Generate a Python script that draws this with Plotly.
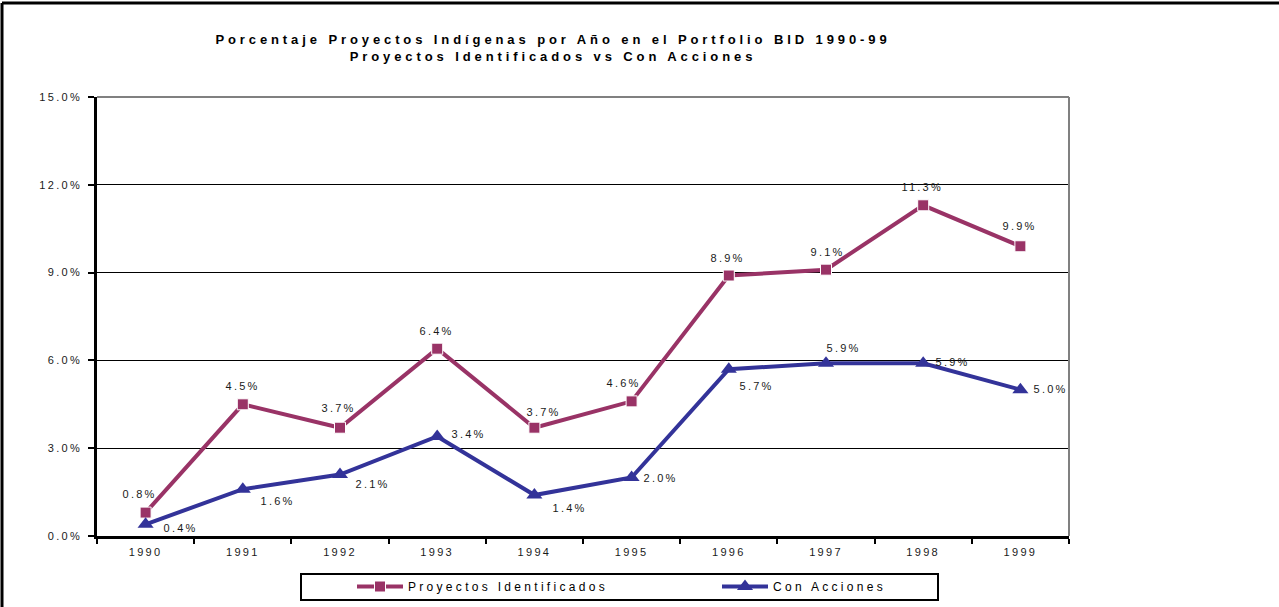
import plotly.graph_objects as go

years = ["1990", "1991", "1992", "1993", "1994", "1995", "1996", "1997", "1998", "1999"]
identificados = [0.8, 4.5, 3.7, 6.4, 3.7, 4.6, 8.9, 9.1, 11.3, 9.9]
con_acciones = [0.4, 1.6, 2.1, 3.4, 1.4, 2.0, 5.7, 5.9, 5.9, 5.0]
y_ticks = [0, 3, 6, 9, 12, 15]

title_text = ("Porcentaje Proyectos Indígenas por Año en el Portfolio BID 1990-99"
              "<br>Proyectos Identificados vs Con Acciones")

# label offsets in pixels (dx right, dy down) relative to each marker
ident_dx = [-6, 0, -2, -1, 9, -8, -1, 1, -1, -1]
ident_dy = [-19, -18, -20, -18, -16, -18, -18, -18, -18, -20]
accion_dx = [35, 35, 32, 31, 35, 29, 28, 17, 29, 30]
accion_dy = [4, 12, 9, -2, 13, 1, 17, -15, -1, -1]

W, H = 1279, 607
L, R, T, B = 97, 1069, 97, 536
FONT = "Liberation Sans, Arial, sans-serif"
MAROON = "#993366"
BLUE = "#333399"
LABEL_COLOR = "#1a1a1a"


def px_x(p):
    return (p - L) / (R - L)


def px_y(p):
    return (B - p) / (B - T)


fig = go.Figure()
fig.add_trace(go.Scatter(
    x=years, y=identificados, name="Proyectos Identificados",
    mode="lines+markers",
    line=dict(color=MAROON, width=4),
    marker=dict(symbol="square", size=11, color=MAROON,
                line=dict(color="white", width=1)),
))
fig.add_trace(go.Scatter(
    x=years, y=con_acciones, name="Con Acciones",
    mode="lines+markers",
    line=dict(color=BLUE, width=4),
    marker=dict(symbol="triangle-up", size=14, color=BLUE),
))

annotations = []
# category axis: annotations are placed by category index
for i, (v, dx, dy) in enumerate(zip(identificados, ident_dx, ident_dy)):
    annotations.append(dict(x=i, y=v, xref="x", yref="y", text=f"{v:.1f}%",
                            showarrow=False, xanchor="center", yanchor="middle",
                            xshift=dx, yshift=-dy,
                            font=dict(family=FONT, size=11, color=LABEL_COLOR)))
for i, (v, dx, dy) in enumerate(zip(con_acciones, accion_dx, accion_dy)):
    annotations.append(dict(x=i, y=v, xref="x", yref="y", text=f"{v:.1f}%",
                            showarrow=False, xanchor="center", yanchor="middle",
                            xshift=dx, yshift=-dy,
                            font=dict(family=FONT, size=11, color=LABEL_COLOR)))

shapes = [
    # plot area border (gray top & right)
    dict(type="line", xref="paper", yref="paper", x0=0, x1=1, y0=1, y1=1,
         line=dict(color="#808080", width=2), layer="above"),
    dict(type="line", xref="paper", yref="paper", x0=1, x1=1, y0=0, y1=1,
         line=dict(color="#808080", width=2), layer="above"),
    # outer chart frame
    dict(type="line", xref="paper", yref="paper", x0=px_x(2), x1=px_x(2),
         y0=px_y(3), y1=px_y(612), line=dict(color="black", width=3)),
    dict(type="line", xref="paper", yref="paper", x0=px_x(2), x1=px_x(1285),
         y0=px_y(3), y1=px_y(3), line=dict(color="black", width=3)),
    # legend box
    dict(type="rect", xref="paper", yref="paper", x0=px_x(301), x1=px_x(938),
         y0=px_y(600), y1=px_y(574), line=dict(color="black", width=2)),
]

fig.update_layout(
    width=W, height=H, autosize=False,
    margin=dict(l=L, r=W - R, t=T, b=H - B, pad=0),
    paper_bgcolor="white", plot_bgcolor="white",
    font=dict(family=FONT, size=11, color=LABEL_COLOR),
    title=dict(text=title_text, x=553 / W, xanchor="center", xref="container",
               y=1 - 44 / H, yanchor="top", yref="container",
               font=dict(family=FONT, size=13, color="black", weight="bold")),
    showlegend=True,
    legend=dict(orientation="h", xref="container", yref="container",
                x=352 / W, xanchor="left", y=1 - 572 / H, yanchor="top",
                entrywidth=304, entrywidthmode="pixels", itemwidth=46,
                bgcolor="rgba(0,0,0,0)", borderwidth=0,
                font=dict(family=FONT, size=12, color="black"),
                traceorder="normal"),
    shapes=shapes,
    annotations=annotations,
    xaxis=dict(type="category", tickson="boundaries", ticks="outside",
               ticklen=5, tickcolor="black", tickwidth=1.5,
               showline=True, linecolor="black", linewidth=2.5,
               showgrid=False, zeroline=False, ticklabelstandoff=4,
               tickangle=0, automargin=False, range=[-0.5, len(years) - 0.5],
               tickfont=dict(family=FONT, size=11, color=LABEL_COLOR)),
    yaxis=dict(range=[0, 15], tickvals=y_ticks,
               ticktext=[f"{v:.1f}%" for v in y_ticks],
               ticks="outside", ticklen=6, tickcolor="black", tickwidth=1.5,
               showline=True, linecolor="black", linewidth=2.5,
               showgrid=True, gridcolor="black", gridwidth=1, zeroline=False,
               ticklabelstandoff=4, automargin=False,
               tickfont=dict(family=FONT, size=11, color=LABEL_COLOR)),
)

post = """
document.body.style.margin = '0';
var gd = document.getElementById('{plot_id}');
function spacing() {
  gd.querySelectorAll('.gtitle').forEach(function(t){ t.style.letterSpacing = '3.9px'; });
  gd.querySelectorAll('.legendtext').forEach(function(t){ t.style.letterSpacing = '3.3px'; });
  gd.querySelectorAll('.xtick text, .ytick text').forEach(function(t){ t.style.letterSpacing = '2.3px'; });
  gd.querySelectorAll('.annotation-text').forEach(function(t){ t.style.letterSpacing = '2.2px'; });
}
spacing();
gd.on('plotly_afterplot', spacing);
"""

fig.write_html("out.html", post_script=post, config={"displayModeBar": False})
